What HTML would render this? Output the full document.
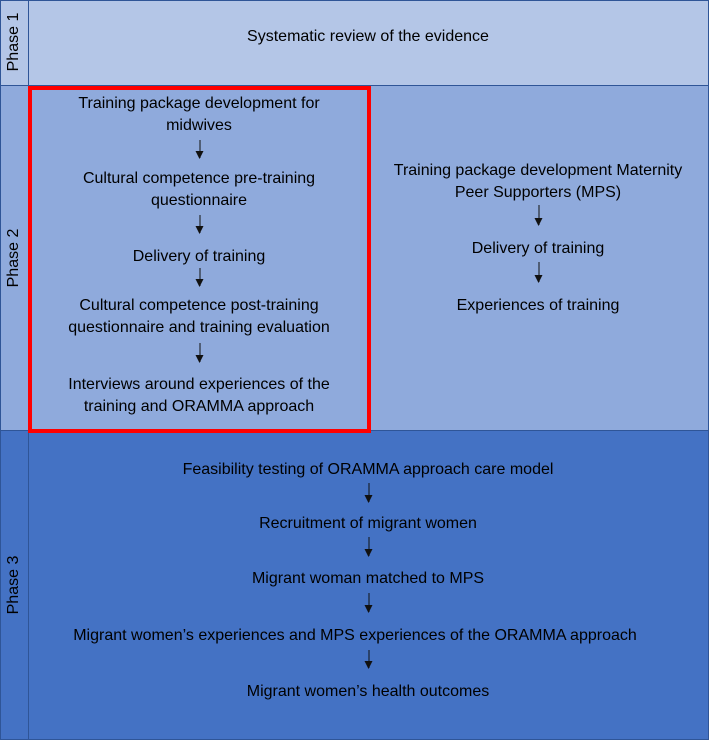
<!DOCTYPE html>
<html><head><style>
body{margin:0;width:709px;height:740px;position:relative;font-family:"Liberation Sans",sans-serif;overflow:hidden;background:#fff}
.b{position:absolute;box-sizing:border-box;border:1.5px solid #2f5597}
.t{position:absolute;font-size:16px;color:#000;text-align:center;transform:translate(-50%,-50%);white-space:nowrap;line-height:22px}
.v{position:absolute;font-size:16px;color:#000;transform:translate(-50%,-50%) rotate(-90deg);white-space:nowrap}
.a{position:absolute;width:1px;background:#111;transform:translateX(-50%)}
.a:after{content:"";position:absolute;left:-4px;bottom:-1px;border-left:4.5px solid transparent;border-right:4.5px solid transparent;border-top:8px solid #111}
</style></head><body>
<div class="b" style="left:0;top:0;width:29px;height:86px;background:#b4c6e7"></div>
<div class="b" style="left:28px;top:0;width:681px;height:86px;background:#b4c6e7"></div>
<div class="b" style="left:0;top:85px;width:29px;height:346px;background:#8faadc"></div>
<div class="b" style="left:28px;top:85px;width:681px;height:346px;background:#8faadc"></div>
<div class="b" style="left:0;top:430px;width:29px;height:310px;background:#4472c4"></div>
<div class="b" style="left:28px;top:430px;width:681px;height:310px;background:#4472c4"></div>
<div style="position:absolute;left:28px;top:86px;width:343px;height:347px;box-sizing:border-box;border:4px solid #ff0000"></div>
<div class="v" style="left:14px;top:42px">Phase 1</div>
<div class="v" style="left:14px;top:258px">Phase 2</div>
<div class="v" style="left:14px;top:585px">Phase 3</div>
<div class="t" style="left:368px;top:37px">Systematic review of the evidence</div>
<div class="t" style="left:199px;top:115px">Training package development for<br>midwives</div>
<div class="a" style="left:200px;top:140px;height:18px"></div>
<div class="t" style="left:199px;top:190px">Cultural competence pre-training<br>questionnaire</div>
<div class="a" style="left:200px;top:215px;height:18px"></div>
<div class="t" style="left:199px;top:257px">Delivery of training</div>
<div class="a" style="left:200px;top:268px;height:18px"></div>
<div class="t" style="left:199px;top:317px">Cultural competence post-training<br>questionnaire and training evaluation</div>
<div class="a" style="left:200px;top:343px;height:19px"></div>
<div class="t" style="left:199px;top:396px">Interviews around experiences of the<br>training and ORAMMA approach</div>
<div class="t" style="left:538px;top:182px">Training package development Maternity<br>Peer Supporters (MPS)</div>
<div class="a" style="left:539px;top:205px;height:20px"></div>
<div class="t" style="left:538px;top:249px">Delivery of training</div>
<div class="a" style="left:539px;top:262px;height:20px"></div>
<div class="t" style="left:538px;top:306px">Experiences of training</div>
<div class="t" style="left:368px;top:470px">Feasibility testing of ORAMMA approach care model</div>
<div class="a" style="left:369px;top:483px;height:19px"></div>
<div class="t" style="left:368px;top:524px">Recruitment of migrant women</div>
<div class="a" style="left:369px;top:537px;height:19px"></div>
<div class="t" style="left:368px;top:579px">Migrant woman matched to MPS</div>
<div class="a" style="left:369px;top:593px;height:19px"></div>
<div class="t" style="left:355px;top:636px">Migrant women’s experiences and MPS experiences of the ORAMMA approach</div>
<div class="a" style="left:369px;top:650px;height:18px"></div>
<div class="t" style="left:368px;top:692px">Migrant women’s health outcomes</div>
</body></html>
